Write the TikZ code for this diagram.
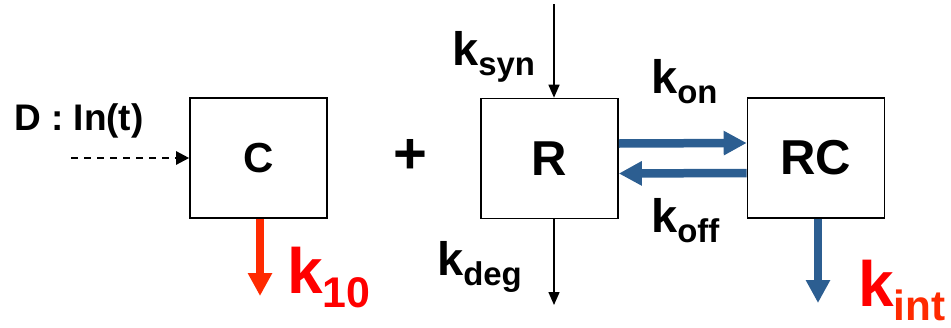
\documentclass[tikz,border=0pt]{standalone}
\usepackage{fontspec}
\setmainfont{Liberation Sans}
\usetikzlibrary{arrows.meta}

\definecolor{bindblue}{RGB}{44,94,145}
\definecolor{elimred}{RGB}{255,42,0}

% costante di velocita con pedice
\newcommand{\krate}[2][.7]{k\raisebox{-.22em}{\scalebox{#1}{#2}}}

\begin{document}
\begin{tikzpicture}[x=1pt,y=-1pt,
    comp/.style={draw,line width=1.6pt,minimum width=137pt,minimum height=120pt,inner sep=0pt,
                 font=\fontsize{49}{52}\selectfont\bfseries},
    lbl/.style={anchor=base west,inner sep=0pt,font=\fontsize{47}{50}\selectfont\bfseries},
    biglbl/.style={anchor=base west,inner sep=0pt,text=red,font=\fontsize{64}{68}\selectfont\bfseries},
    thinarr/.style={line width=1.5pt,-{Triangle[length=13pt,width=11pt]}},
    bluearr/.style={bindblue,line width=8.5pt,-{Triangle[length=23pt,width=23pt]}},
    redarr/.style={elimred,line width=8pt,-{Triangle[length=23pt,width=23pt]}}]
    \useasboundingbox (0,0) rectangle (951,327);

    % compartimenti
    \node[comp,font=\fontsize{42}{45}\selectfont\bfseries] (C) at (258.5,158) {\raisebox{-6pt}{C}};
    \node[comp] (R) at (549.5,158.5) {\raisebox{-6pt}{R}};
    \node[comp] (RC) at (816,158) {\raisebox{-6pt}{RC}};
    \node[font=\fontsize{58}{60}\selectfont\bfseries] (plus) at (410,156) {+};

    % dose in ingresso
    \coordinate (dose) at (71,158);
    \draw[line width=2.4pt,dash pattern=on 7pt off 6pt,-{Triangle[length=13pt,width=13pt]}] (dose) -- (C.west);
    \node[anchor=base west,inner sep=0pt,font=\fontsize{37}{40}\selectfont\bfseries] (input) at (14,130) {D : In(t)};

    % sintesi e degradazione del recettore
    \coordinate (syn) at (554,4);
    \coordinate (deg) at (554,305);
    \draw[thinarr] (syn) -- (syn |- R.north);
    \draw[thinarr] (R.south -| deg) -- (deg);
    \node[lbl] (ksyn) at (452,65) {\krate{syn}};
    \node[lbl] (kdeg) at (437,275) {\krate{deg}};

    % legame
    \draw[bluearr] ([yshift=15pt]R.east) -- ([yshift=15pt]RC.west);
    \draw[bluearr] ([yshift=-15pt]RC.west) -- ([yshift=-15pt]R.east);
    \node[lbl] (kon) at (651,93) {\krate{on}};
    \node[lbl] (koff) at (651,232) {\krate{off}};

    % eliminazione e internalizzazione
    \coordinate (elim) at (260,296);
    \coordinate (intz) at (818,303);
    \draw[redarr] (C.south -| elim) -- (elim);
    \draw[bluearr] (RC.south -| intz) -- (intz);
    \node[biglbl] (k10) at (287,293) {\krate[.67]{10}};
    \node[biglbl] (kint) at (858,306) {\krate[.66]{\color{elimred}int}};
\end{tikzpicture}
\end{document}
